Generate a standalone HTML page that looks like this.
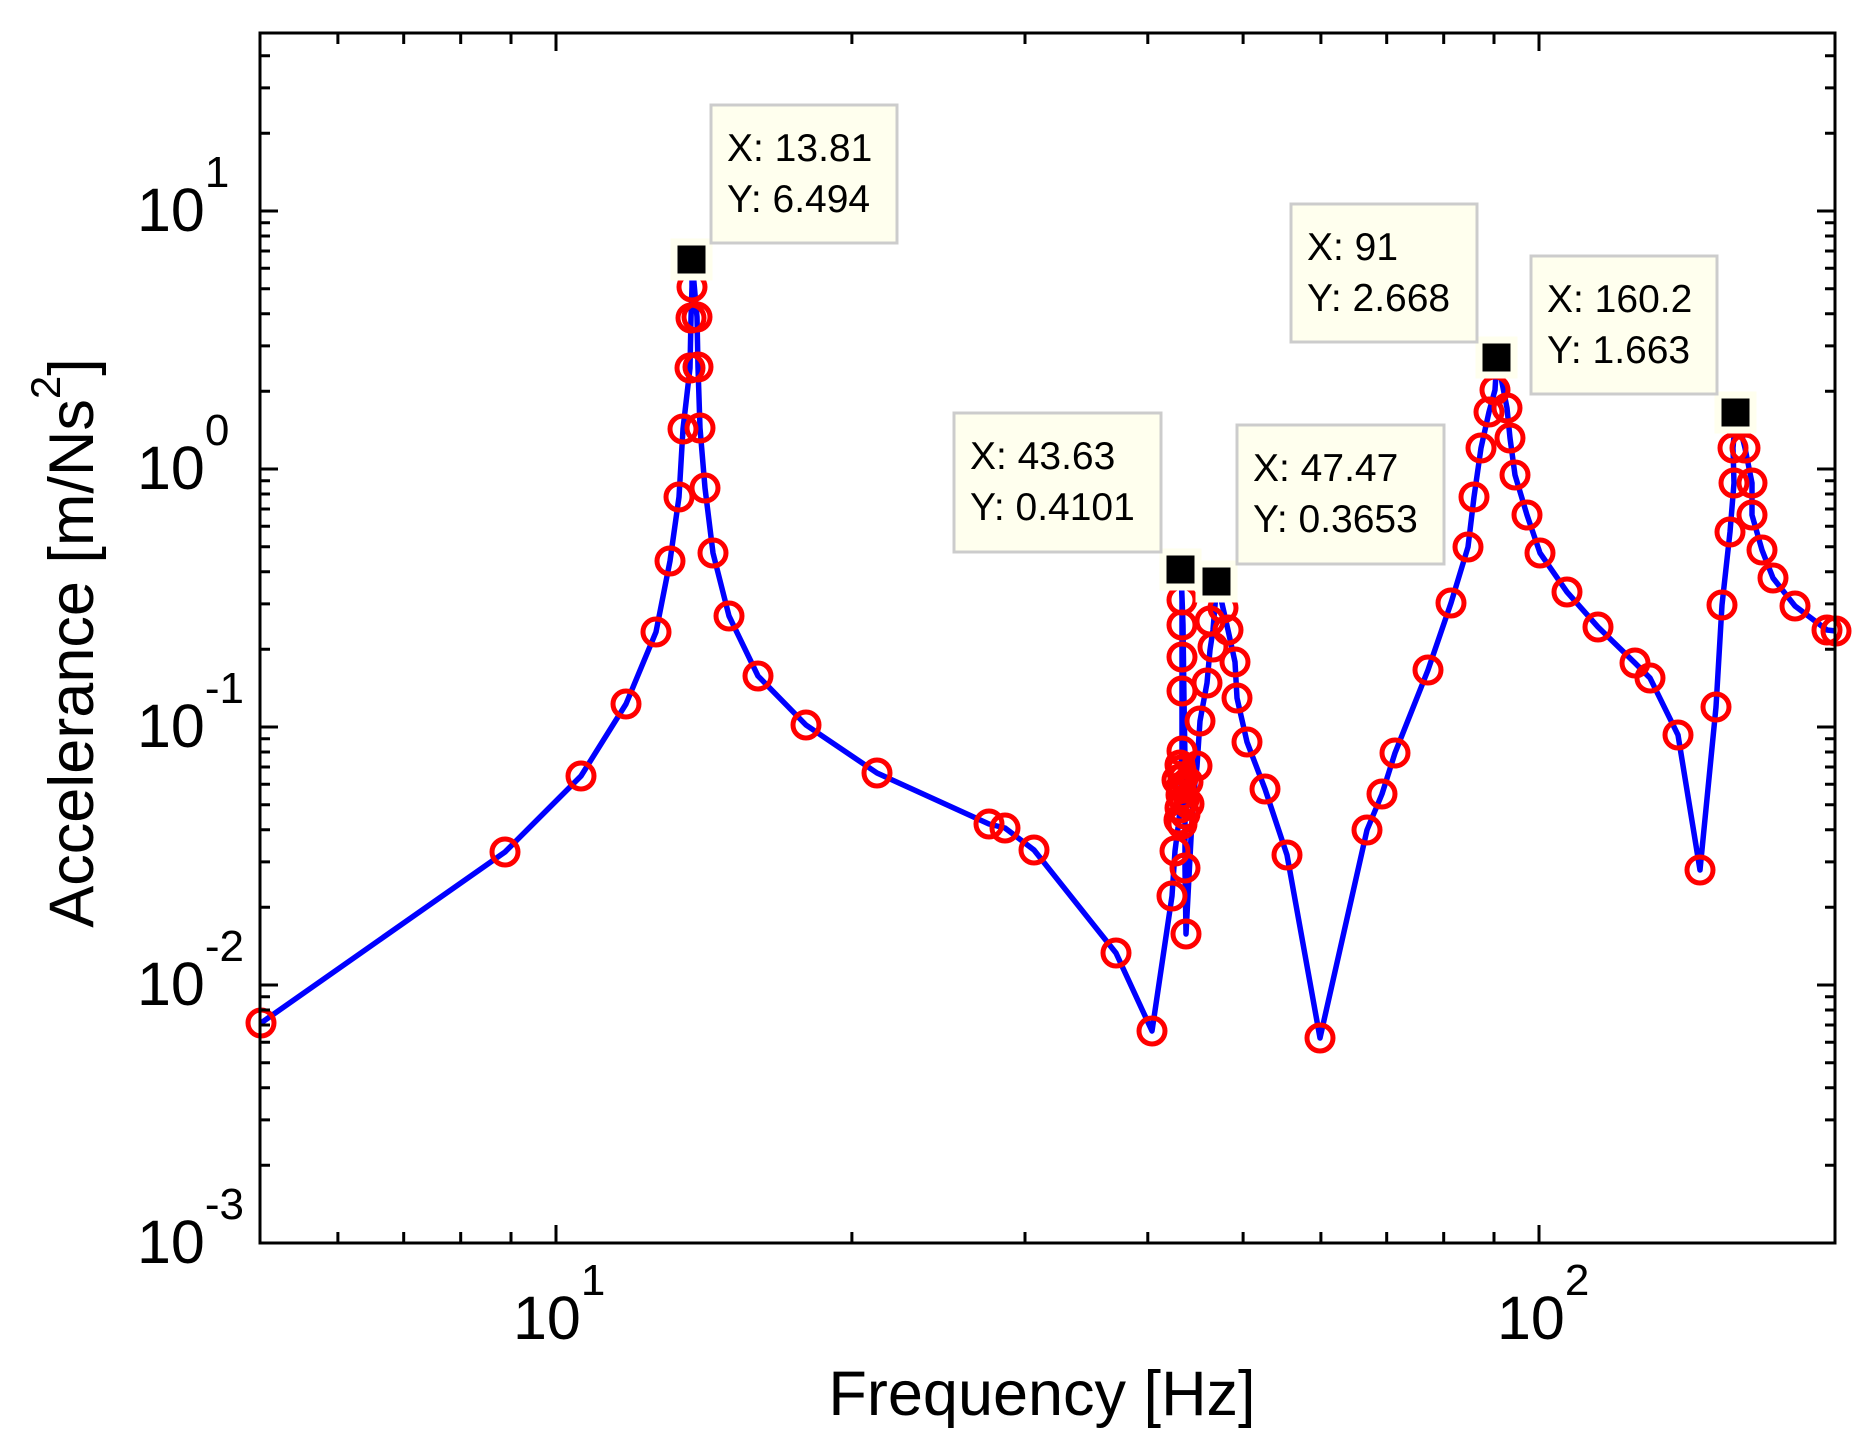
<!DOCTYPE html>
<html><head><meta charset="utf-8"><style>
html,body{margin:0;padding:0;background:#fff;}
svg{display:block;}
text{font-family:"Liberation Sans",Arial,sans-serif;fill:#000;}
</style></head><body>
<svg width="1875" height="1452" viewBox="0 0 1875 1452" xmlns="http://www.w3.org/2000/svg">
<rect x="0" y="0" width="1875" height="1452" fill="#fff"/>

<!-- data line -->
<polyline fill="none" stroke="#0000ff" stroke-width="5.5" stroke-linejoin="round" points="261,1023 505,852 581,776 626,704 656,632 670,561 679,497 683,429 690,368 691,318 692,287 692,260 697,317 698,367 700,428 705,488 713,553 729,616 758,676 806,725 877,773 989,824 1005,828 1034,850 1116,953 1152,1031 1172,896 1175,851 1179,820 1181,795 1181,770 1182,751 1182,691 1182,657 1182,625 1182,600 1181,569 1183,625 1184,700 1185,760 1185,868 1186,934 1193,800 1197,766 1200,721 1207,683 1210,650 1213,630 1217,581 1223,608 1228,630 1235,662 1237,698 1247,742 1265,789 1287,855 1320,1038 1367,830 1382,794 1395,753 1428,670 1451,603 1468,547 1474,497 1481,448 1489,412 1495,390 1497,357 1507,408 1510,438 1515,475 1527,515 1540,553 1567,592 1598,627 1635,663 1650,678 1678,735 1700,870 1716,707 1722,605 1730,532 1734,483 1733,448 1736,412 1745,448 1752,483 1752,515 1762,550 1773,578 1795,606 1827,630 1836,631"/>

<!-- markers -->
<g fill="none" stroke="#ff0000" stroke-width="5">
<circle cx="261" cy="1023" r="13"/><circle cx="505" cy="852" r="13"/><circle cx="581" cy="776" r="13"/><circle cx="626" cy="704" r="13"/><circle cx="656" cy="632" r="13"/><circle cx="670" cy="561" r="13"/><circle cx="679" cy="497" r="13"/><circle cx="683" cy="429" r="13"/><circle cx="690" cy="368" r="13"/><circle cx="691" cy="318" r="13"/><circle cx="692" cy="287" r="13"/>
<circle cx="697" cy="317" r="13"/><circle cx="698" cy="367" r="13"/><circle cx="700" cy="428" r="13"/><circle cx="705" cy="488" r="13"/><circle cx="713" cy="553" r="13"/><circle cx="729" cy="616" r="13"/><circle cx="758" cy="676" r="13"/><circle cx="806" cy="725" r="13"/><circle cx="877" cy="773" r="13"/><circle cx="989" cy="824" r="13"/><circle cx="1005" cy="828" r="13"/><circle cx="1034" cy="850" r="13"/><circle cx="1116" cy="953" r="13"/><circle cx="1152" cy="1031" r="13"/>
<circle cx="1172" cy="896" r="13"/><circle cx="1175" cy="851" r="13"/><circle cx="1179" cy="820" r="13"/><circle cx="1181" cy="795" r="13"/><circle cx="1181" cy="770" r="13"/><circle cx="1182" cy="751" r="13"/><circle cx="1182" cy="691" r="13"/><circle cx="1182" cy="657" r="13"/><circle cx="1182" cy="625" r="13"/><circle cx="1182" cy="600" r="13"/>
<circle cx="1180" cy="765" r="13"/><circle cx="1183" cy="778" r="13"/><circle cx="1181" cy="787" r="13"/><circle cx="1184" cy="800" r="13"/><circle cx="1180" cy="808" r="13"/><circle cx="1185" cy="814" r="13"/><circle cx="1182" cy="824" r="13"/><circle cx="1188" cy="782" r="13"/><circle cx="1189" cy="804" r="13"/><circle cx="1177" cy="780" r="13"/>
<circle cx="1185" cy="868" r="13"/><circle cx="1186" cy="934" r="13"/><circle cx="1197" cy="766" r="13"/><circle cx="1200" cy="721" r="13"/><circle cx="1207" cy="683" r="13"/><circle cx="1210" cy="621" r="13"/><circle cx="1213" cy="647" r="13"/><circle cx="1223" cy="608" r="13"/><circle cx="1228" cy="630" r="13"/><circle cx="1235" cy="662" r="13"/><circle cx="1237" cy="698" r="13"/><circle cx="1247" cy="742" r="13"/><circle cx="1265" cy="789" r="13"/><circle cx="1287" cy="855" r="13"/><circle cx="1320" cy="1038" r="13"/>
<circle cx="1367" cy="830" r="13"/><circle cx="1382" cy="794" r="13"/><circle cx="1395" cy="753" r="13"/><circle cx="1428" cy="670" r="13"/><circle cx="1451" cy="603" r="13"/><circle cx="1468" cy="547" r="13"/><circle cx="1474" cy="497" r="13"/><circle cx="1481" cy="448" r="13"/><circle cx="1489" cy="412" r="13"/><circle cx="1495" cy="390" r="13"/>
<circle cx="1507" cy="408" r="13"/><circle cx="1510" cy="438" r="13"/><circle cx="1515" cy="475" r="13"/><circle cx="1527" cy="515" r="13"/><circle cx="1540" cy="553" r="13"/><circle cx="1567" cy="592" r="13"/><circle cx="1598" cy="627" r="13"/><circle cx="1635" cy="663" r="13"/><circle cx="1650" cy="678" r="13"/><circle cx="1678" cy="735" r="13"/><circle cx="1700" cy="870" r="13"/>
<circle cx="1716" cy="707" r="13"/><circle cx="1722" cy="605" r="13"/><circle cx="1730" cy="532" r="13"/><circle cx="1734" cy="483" r="13"/><circle cx="1733" cy="448" r="13"/><circle cx="1745" cy="448" r="13"/><circle cx="1752" cy="483" r="13"/><circle cx="1752" cy="515" r="13"/><circle cx="1762" cy="550" r="13"/><circle cx="1773" cy="578" r="13"/><circle cx="1795" cy="606" r="13"/><circle cx="1827" cy="630" r="13"/><circle cx="1836" cy="631" r="13"/>
</g>

<!-- axes box -->
<rect x="260" y="33" width="1575" height="1210" fill="none" stroke="#000" stroke-width="3"/>
<g stroke="#000" stroke-width="3" fill="none">
<g transform="translate(260,0)">
<path d="M0 985h18M0 727h18M0 469h18M0 211h18"/>
<path d="M0 1165.3h10M0 1119.9h10M0 1087.7h10M0 1062.7h10M0 1042.2h10M0 1025h10M0 1010h10M0 996.8h10M0 907.3h10M0 861.9h10M0 829.7h10M0 804.7h10M0 784.2h10M0 767h10M0 752h10M0 738.8h10M0 649.3h10M0 603.9h10M0 571.7h10M0 546.7h10M0 526.2h10M0 509h10M0 494h10M0 480.8h10M0 391.3h10M0 345.9h10M0 313.7h10M0 288.7h10M0 268.2h10M0 251h10M0 236h10M0 222.8h10M0 133.3h10M0 87.9h10M0 55.7h10"/>
</g>
<g transform="translate(1835,0) scale(-1,1)">
<path d="M0 985h18M0 727h18M0 469h18M0 211h18"/>
<path d="M0 1165.3h10M0 1119.9h10M0 1087.7h10M0 1062.7h10M0 1042.2h10M0 1025h10M0 1010h10M0 996.8h10M0 907.3h10M0 861.9h10M0 829.7h10M0 804.7h10M0 784.2h10M0 767h10M0 752h10M0 738.8h10M0 649.3h10M0 603.9h10M0 571.7h10M0 546.7h10M0 526.2h10M0 509h10M0 494h10M0 480.8h10M0 391.3h10M0 345.9h10M0 313.7h10M0 288.7h10M0 268.2h10M0 251h10M0 236h10M0 222.8h10M0 133.3h10M0 87.9h10M0 55.7h10"/>
</g>
<g transform="translate(0,1243)">
<path d="M556 0v-18M1539 0v-18"/>
<path d="M337.9 0v-11M403.7 0v-11M460.7 0v-11M511 0v-11M851.9 0v-11M1025 0v-11M1147.8 0v-11M1243.1 0v-11M1320.9 0v-11M1386.7 0v-11M1443.7 0v-11M1494 0v-11"/>
</g>
<g transform="translate(0,33) scale(1,-1)">
<path d="M556 0v-18M1539 0v-18"/>
<path d="M337.9 0v-11M403.7 0v-11M460.7 0v-11M511 0v-11M851.9 0v-11M1025 0v-11M1147.8 0v-11M1243.1 0v-11M1320.9 0v-11M1386.7 0v-11M1443.7 0v-11M1494 0v-11"/>
</g>
</g>

<!-- tick labels -->
<g font-size="61">
<text x="137" y="231">10<tspan dy="-44" font-size="44">1</tspan></text>
<text x="137" y="489">10<tspan dy="-44" font-size="44">0</tspan></text>
<text x="137" y="747">10<tspan dy="-44" font-size="44">-1</tspan></text>
<text x="137" y="1005">10<tspan dy="-44" font-size="44">-2</tspan></text>
<text x="137" y="1263">10<tspan dy="-44" font-size="44">-3</tspan></text>
<text x="513" y="1339">10<tspan dy="-44" font-size="44">1</tspan></text>
<text x="1497" y="1339">10<tspan dy="-44" font-size="44">2</tspan></text>
</g>

<!-- axis titles -->
<text x="1042" y="1415" font-size="63" text-anchor="middle">Frequency [Hz]</text>
<text transform="translate(93,643) rotate(-90)" font-size="63" text-anchor="middle">Accelerance [m/Ns<tspan dy="-33" font-size="42">2</tspan><tspan dy="33">]</tspan></text>

<!-- data tip markers -->
<g fill="#000" stroke="#ffffee" stroke-width="7">
<rect x="674" y="242" width="35" height="35"/>
<rect x="1163" y="552" width="35" height="35"/>
<rect x="1199" y="564" width="35" height="35"/>
<rect x="1479" y="340" width="35" height="35"/>
<rect x="1718" y="395" width="35" height="35"/>
</g>

<!-- data tip boxes -->
<g fill="#ffffee" stroke="#cccccc" stroke-width="3">
<rect x="711" y="105" width="186" height="138"/>
<rect x="954" y="413" width="207" height="139"/>
<rect x="1237" y="425" width="207" height="139"/>
<rect x="1291" y="204" width="186" height="138"/>
<rect x="1531" y="256" width="186" height="138"/>
</g>
<g font-size="39" fill="#111">
<text x="727" y="161">X: 13.81</text><text x="727" y="212">Y: 6.494</text>
<text x="970" y="469">X: 43.63</text><text x="970" y="520">Y: 0.4101</text>
<text x="1253" y="481">X: 47.47</text><text x="1253" y="532">Y: 0.3653</text>
<text x="1307" y="260">X: 91</text><text x="1307" y="311">Y: 2.668</text>
<text x="1547" y="312">X: 160.2</text><text x="1547" y="363">Y: 1.663</text>
</g>
</svg>
</body></html>
